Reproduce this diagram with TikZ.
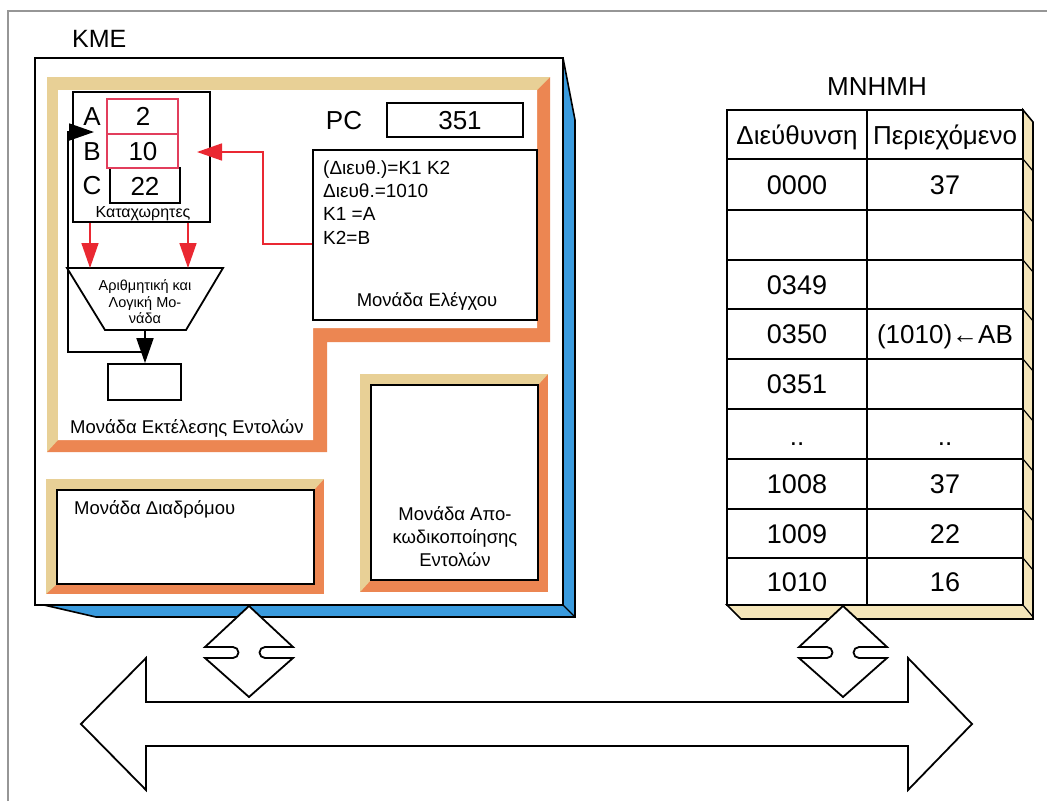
\documentclass[tikz,border=0pt]{standalone}
\usepackage{fontspec}
\setmainfont{Liberation Sans}
\usetikzlibrary{arrows.meta,fit}
\definecolor{tanc}{RGB}{232,208,150}
\definecolor{orangec}{RGB}{236,134,82}
\definecolor{bluec}{RGB}{58,155,222}
\definecolor{creamc}{RGB}{245,230,186}
\definecolor{redc}{RGB}{234,40,50}
\definecolor{pinkc}{RGB}{226,62,92}
\definecolor{framegray}{RGB}{150,150,150}
\newcommand\fsz[1]{\fontsize{#1}{#1}\selectfont}
\tikzset{
 t/.code={\pgfmathsetmacro\tth{0.72*#1}\edef\tmpx{\noexpand\tikzset{inner sep=0pt, text height=\tth pt, text depth=0pt}}\tmpx\tikzset{font=\fsz{#1}}},
 blk/.style={draw=black, line width=1.8pt, fill=white, inner sep=0pt},
 redcell/.style={draw=pinkc, line width=1.5pt, inner sep=0pt},
 redarrow/.style={draw=redc, line width=1.6pt, -{Triangle[length=25pt,width=17pt]}},
 blkarrow/.style={draw=black, line width=1.8pt, -{Triangle[length=25pt,width=17pt]}},
 shapeline/.style={draw=black, line width=1.8pt, fill=white, line join=miter},
}
\begin{document}
\begin{tikzpicture}[x=1pt,y=-1pt]
\useasboundingbox (0,0) rectangle (1047,801);
\draw[framegray, line width=1.5pt] (8,801) -- (8,11) -- (1047,11);
\node[t=25, anchor=west] (kme) at (72,38) {KME};

% CPU 3D body
\filldraw[fill=bluec, draw=black, line width=1.6pt, line join=miter] (563,58) -- (575,120) -- (575,617) -- (96,617) -- (44,605) -- (563,605) -- cycle;
\draw[line width=1.2pt] (563,605) -- (575,617);
\node[blk, line width=2pt, fit={(35,58)(563,605)}] (cpu) {};

% execution unit frame
\fill[orangec] (47,77) -- (550,77) -- (550,342) -- (327,342) -- (327,452) -- (47,452) -- cycle;
\fill[tanc] (47,77) -- (550,77) -- (537,90) -- (58,90) -- (58,440) -- (47,452) -- cycle;
\fill[white] (58,90) -- (537,90) -- (537,328) -- (313,328) -- (313,440) -- (58,440) -- cycle;

% routing unit
\fill[orangec] (46,479) rectangle (324,594);
\fill[tanc] (46,479) -- (324,479) -- (314,490) -- (57,490) -- (57,584) -- (46,594) -- cycle;
\node[blk, fit={(57,490)(314,584)}] (route) {};
\node[t=18.5, anchor=west] (routelbl) at (74,508) {Μονάδα Διαδρόμου};

% decoding unit
\fill[orangec] (360,374) rectangle (548,592);
\fill[tanc] (360,374) -- (548,374) -- (538,385) -- (371,385) -- (371,580) -- (360,592) -- cycle;
\node[blk, fit={(371,385)(538,580)}] (decode) {};
\node[t=18.5] (dec1) at (455,514) {Μονάδα Απο-};
\node[t=18.5] (dec2) at (455,537) {κωδικοποίησης};
\node[t=18.5] (dec3) at (455,560) {Εντολών};

% PC
\node[t=26] (pclbl) at (344,120) {PC};
\node[blk, fit={(387,103)(523,137)}] (pc) {};
\node[t=26] (pcval) at (460,120) {351};

% control unit
\node[blk, fit={(313,150)(537,320)}] (ctrl) {};
\node[t=19, anchor=west] (c1) at (323,168) {(Διευθ.)=Κ1 Κ2};
\node[t=19, anchor=west] (c2) at (323,191) {Διευθ.=1010};
\node[t=19, anchor=west] (c3) at (323,214) {Κ1 =Α};
\node[t=19, anchor=west] (c4) at (323,238) {Κ2=Β};
\node[t=18.5] (ctrllbl) at (427,300) {Μονάδα Ελέγχου};

% registers
\node[blk, fit={(73,92)(210,222)}] (regs) {};
\node[blk, fit={(110,168)(180,203)}] (cellC) {};
\node[redcell, fit={(107,99)(178,134)}] (cellA) {};
\node[redcell, fit={(107,134)(178,168)}] (cellB) {};
\node[t=26] (la) at (92,116) {A};
\node[t=26] (lb) at (92,151) {B};
\node[t=26] (lc) at (92,185) {C};
\node[t=26] (va) at (143,116) {2};
\node[t=26] (vb) at (143,151) {10};
\node[t=26] (vc) at (145,186) {22};
\node[t=16] (reglbl) at (143,212) {Καταχωρητες};

% ALU
\filldraw[shapeline] (67,268) -- (223,268) -- (186,330) -- (105,330) -- cycle;
\coordinate (aluin1) at (90,268);
\coordinate (aluin2) at (188,268);
\coordinate (aluout) at (145,330);
\node[t=14.5] (alu1) at (145,285) {Αριθμητική και};
\node[t=14.5] (alu2) at (145,302) {Λογική Μο-};
\node[t=14.5] (alu3) at (145,318) {νάδα};

% result box
\node[blk, fit={(108,364)(181,400)}] (outb) {};
\node[t=18.5, anchor=west] (execlbl) at (70,427) {Μονάδα Εκτέλεσης Εντολών};

% arrows
\coordinate (loopstart) at (145,352);
\coordinate (loopin) at (94,132);
\draw[blkarrow] (loopstart) -- (68,352) -- (68,132) -- (loopin);
\draw[blkarrow] (aluout) -- (aluout |- outb.north);
\draw[redarrow] (regs.south -| aluin1) -- (aluin1);
\draw[redarrow] (regs.south -| aluin2) -- (aluin2);
\coordinate (bin) at (197,152);
\draw[redarrow] (ctrl.west |- 0,244) -- (263,244) -- (263,152) -- (bin);

% memory
\node[t=26] (mnhmh) at (877,86) {ΜΝΗΜΗ};
\filldraw[fill=creamc, draw=black, line width=1.6pt, line join=miter] (1023,110) -- (1033,122) -- (1033,619) -- (741,619) -- (727,605) -- (1023,605) -- cycle;
\foreach \y in {159,210,260,309,359,409,459,509,558,605}
  \draw[line width=1.2pt] (1023,\y) -- (1033,\y+12);
\node[blk, fit={(727,110)(1023,605)}] (mem) {};
\draw[line width=1.6pt] (867,110) -- (867,605);
\foreach \y in {159,210,260,309,359,409,459,509,558}
  \draw[line width=1.6pt] (727,\y) -- (1023,\y);
\tikzset{mt/.style={t=26}, mn/.style={t=27}}
\node[mt] (h1) at (797,135) {Διεύθυνση};
\node[mt] (h2) at (945,135) {Περιεχόμενο};
\node[mn] (a1) at (797,185) {0000};
\node[mn] (b1) at (945,185) {37};
\node[mn] (a3) at (797,285) {0349};
\node[mn] (a4) at (797,334) {0350};
\node[mt] (b4) at (945,334) {(1010)←AB};
\node[mn] (a5) at (797,384) {0351};
\node[mt] (a6) at (797,436) {..};
\node[mt] (b6) at (945,436) {..};
\node[mn] (a7) at (797,484) {1008};
\node[mn] (b7) at (945,484) {37};
\node[mn] (a8) at (797,534) {1009};
\node[mn] (b8) at (945,534) {22};
\node[mn] (a9) at (797,582) {1010};
\node[mn] (b9) at (945,582) {16};

% bus
\filldraw[shapeline] (81,724) -- (146,658) -- (146,702) -- (908,702) -- (908,658) -- (972,724) -- (908,790) -- (908,746) -- (146,746) -- (146,790) -- cycle;
% diamonds (vertical double arrows)
\foreach \cx in {249, 843}{
  \filldraw[shapeline] (\cx,606) -- (\cx+44,647) -- (\cx+16,647) arc(270:90:5.5) -- (\cx+44,658) -- (\cx,697)
     -- (\cx-44,658) -- (\cx-16,658) arc(90:-90:5.5) -- (\cx-44,647) -- cycle;
}
\end{tikzpicture}
\end{document}
